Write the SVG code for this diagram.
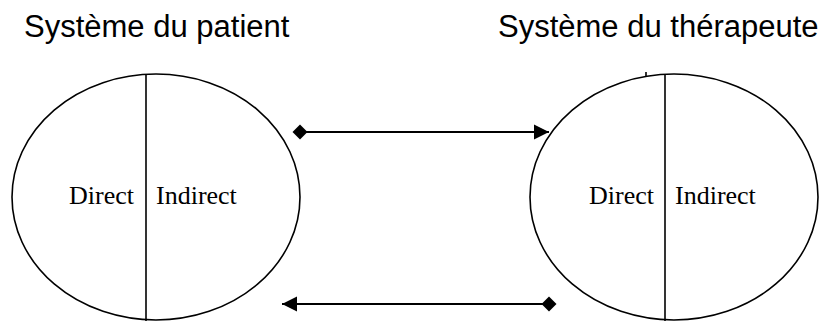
<svg xmlns="http://www.w3.org/2000/svg" width="827" height="321" viewBox="0 0 827 321">
<style>
.title{font-family:"Liberation Sans",Arial,sans-serif;font-size:31px;fill:#000}
.lbl{font-family:"Liberation Serif","Times New Roman",serif;font-size:26px;fill:#000}
.ell{fill:none;stroke:#000;stroke-width:1.6}
.div{stroke:#000;stroke-width:1.6}
.conn{stroke:#000;stroke-width:2;fill:none}
</style>
<defs>
<marker id="arrow" markerUnits="userSpaceOnUse" markerWidth="16" markerHeight="16" refX="15" refY="8" orient="auto">
<path d="M0,0.5 L15,8 L0,15.5 Z" fill="#000"/>
</marker>
<marker id="diamond" markerUnits="userSpaceOnUse" markerWidth="16" markerHeight="16" refX="8" refY="8" orient="auto">
<path d="M0.5,8 L8,0.5 L15.5,8 L8,15.5 Z" fill="#000"/>
</marker>
</defs>
<rect width="827" height="321" fill="#fff"/>
<text class="title" x="24" y="37">Système du patient</text>
<text class="title" x="498" y="37">Système du thérapeute</text>
<g id="patient">
<ellipse class="ell" cx="156" cy="197" rx="144" ry="123"/>
<line class="div" x1="146" y1="74" x2="146" y2="321"/>
<text class="lbl" x="69" y="204">Direct</text>
<text class="lbl" x="156" y="204">Indirect</text>
</g>
<g id="therapeute">
<ellipse class="ell" cx="674" cy="197" rx="144" ry="123"/>
<line class="div" x1="665" y1="74" x2="665" y2="321"/>
<line class="div" x1="646" y1="72" x2="646" y2="77" stroke-width="1"/>
<text class="lbl" x="589" y="204">Direct</text>
<text class="lbl" x="675" y="204">Indirect</text>
</g>
<g id="connectors">
<line class="conn" x1="300" y1="132" x2="549" y2="132" marker-start="url(#diamond)" marker-end="url(#arrow)"/>
<line class="conn" x1="549" y1="304" x2="282" y2="304" marker-start="url(#diamond)" marker-end="url(#arrow)"/>
</g>
</svg>
